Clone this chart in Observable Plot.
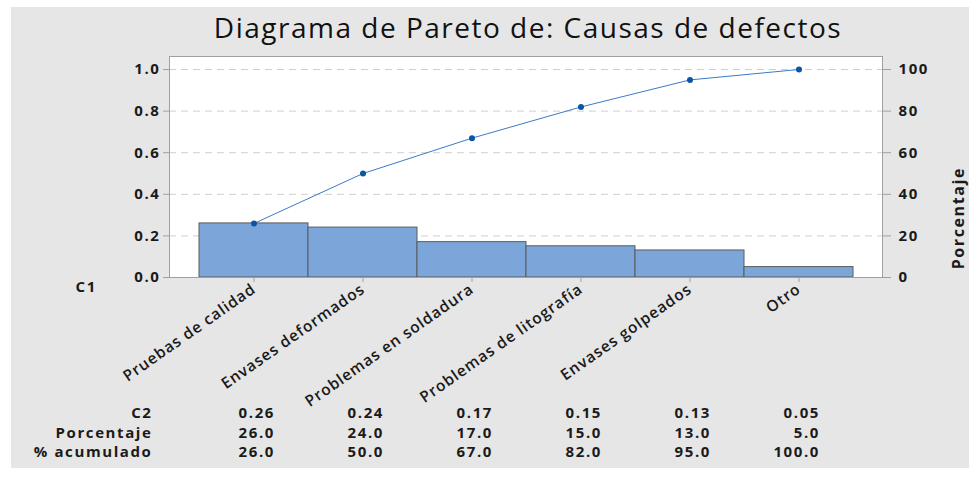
<!DOCTYPE html>
<html><head><meta charset="utf-8">
<script src="https://cdn.jsdelivr.net/npm/d3@7"></script>
<script src="https://cdn.jsdelivr.net/npm/@observablehq/plot@0.6"></script>
<style>
body{margin:0;background:#fff;}
#wrap{position:relative;width:969px;height:477px;overflow:hidden;}
#bg{position:absolute;left:11px;top:7px;right:0;bottom:9px;background:#e6e6e6;}
#title{position:relative;height:44px;box-sizing:border-box;padding-left:87px;text-align:center;font-family:"Open Sans",sans-serif;font-size:28px;font-weight:500;letter-spacing:1.5px;line-height:1;padding-top:13px;color:#111;white-space:nowrap;}
#chart{position:relative;}
svg{display:block;}
#chart g[aria-label="x-axis tick label"]{letter-spacing:0.9px;}
</style></head><body>
<div id="wrap"><div id="bg"></div><div id="title">Diagrama de Pareto de: Causas de defectos</div><div id="chart"></div></div>
<script>
const categories = ["Pruebas de calidad","Envases deformados","Problemas en soldadura","Problemas de litografía","Envases golpeados","Otro"];
const c2 = [0.26,0.24,0.17,0.15,0.13,0.05];
const porcentaje = [26.0,24.0,17.0,15.0,13.0,5.0];
const acumulado = [26.0,50.0,67.0,82.0,95.0,100.0];
const leftTicks = [0,0.2,0.4,0.6,0.8,1.0];
const rightTickLabels = ["0","20","40","60","80","100"];
const rowLabels = ["C2","Porcentaje","% acumulado"];

const data = categories.map((c,i)=>({cat:c, c2:c2[i], pct:porcentaje[i], cum:acumulado[i]}));
const font = '"Open Sans", sans-serif';
const txt = "#1a1a1a";
const f2 = d3.format(".2f"), f1 = d3.format(".1f");
const tableDx = 21;

const plot = Plot.plot({
  width:969, height:433,
  marginLeft:169, marginRight:87, marginTop:12, marginBottom:200,
  style:{background:"transparent", fontFamily:font, fontSize:"15px", fontWeight:700, letterSpacing:"1.6px", color:txt, overflow:"visible"},
  x:{type:"band", domain:categories, paddingInner:0, paddingOuter:0.266, axis:null},
  y:{domain:[0,1.0625], axis:null},
  marks:[
    Plot.frame({fill:"white", stroke:"none"}),
    Plot.gridY(leftTicks.filter(d=>d>0), {stroke:"#cfcfcf", strokeOpacity:1, strokeDasharray:"7,5"}),
    Plot.barY(data,{x:"cat", y:"c2", fill:"#7ca6da", stroke:"#5a5a5a", strokeWidth:1}),
    Plot.line(data,{x:"cat", y:d=>d.cum/100, stroke:"#3b7bc8", strokeWidth:1}),
    Plot.dot(data,{x:"cat", y:d=>d.cum/100, r:3, fill:"#0b55a5"}),
    Plot.frame({stroke:"#a0a0a0"}),
    Plot.axisY(leftTicks,{anchor:"left", tickSize:6, stroke:"#a0a0a0", fill:txt, tickFormat:d3.format(".1f"), tickPadding:3, label:null}),
    Plot.axisY(leftTicks,{anchor:"right", tickSize:8, stroke:"#a0a0a0", fill:txt, tickFormat:d=>rightTickLabels[leftTicks.indexOf(d)], tickPadding:8, label:null}),
    Plot.axisX(categories,{anchor:"bottom", tickSize:5, stroke:"#a0a0a0", fill:txt, fontWeight:600, fontSize:15.5, tickRotate:-35, tickPadding:5, label:null}),
    Plot.text(["Porcentaje"],{frameAnchor:"right", dx:76, rotate:-90, fill:txt, fontSize:16}),
    Plot.text(["C1"],{frameAnchor:"bottom-left", dx:-94, dy:14, textAnchor:"start", fill:txt}),
    Plot.text(data,{x:"cat", text:d=>f2(d.c2), frameAnchor:"bottom", dy:140, dx:tableDx, textAnchor:"end", fill:txt}),
    Plot.text(data,{x:"cat", text:d=>f1(d.pct), frameAnchor:"bottom", dy:160, dx:tableDx, textAnchor:"end", fill:txt}),
    Plot.text(data,{x:"cat", text:d=>f1(d.cum), frameAnchor:"bottom", dy:179, dx:tableDx, textAnchor:"end", fill:txt}),
    Plot.text([rowLabels[0]],{frameAnchor:"bottom-left", dx:-17, dy:140, textAnchor:"end", fill:txt}),
    Plot.text([rowLabels[1]],{frameAnchor:"bottom-left", dx:-17, dy:160, textAnchor:"end", fill:txt}),
    Plot.text([rowLabels[2]],{frameAnchor:"bottom-left", dx:-17, dy:179, textAnchor:"end", fill:txt})
  ]
});
document.getElementById("chart").appendChild(plot);
</script>
</body></html>
